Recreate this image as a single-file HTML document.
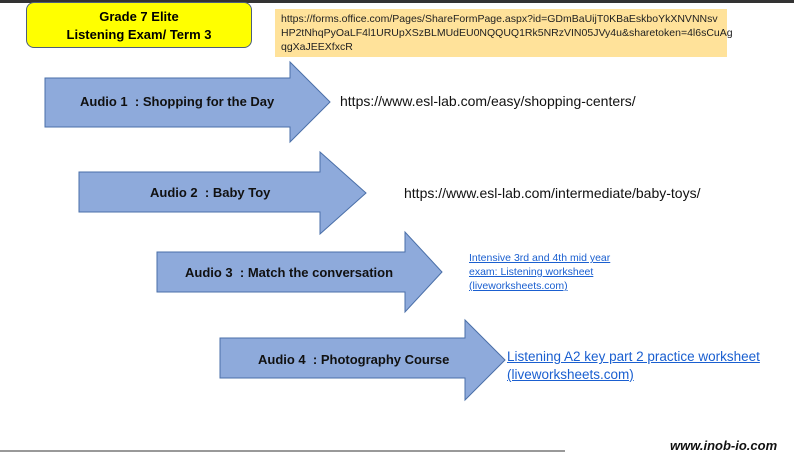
<!DOCTYPE html>
<html><head><meta charset="utf-8"><style>
body{margin:0;width:794px;height:453px;background:#fff;position:relative;overflow:hidden;font-family:"Liberation Sans",sans-serif}
.a{position:absolute}
.lbl{position:absolute;font-weight:bold;font-size:13px;color:#111;white-space:nowrap}
.lk{position:absolute;color:#1a5fd0;text-decoration:underline;white-space:nowrap}
</style></head><body>
<div class="a" style="left:0;top:0;width:794px;height:3px;background:#333"></div>
<div class="a" style="left:26px;top:2px;width:226px;height:46px;background:#ffff00;border:1px solid #4d5f7a;border-radius:8px;text-align:center;font-weight:bold;font-size:13px;line-height:18px;padding-top:5px;box-sizing:border-box">Grade 7 Elite<br>Listening Exam/ Term 3</div>
<div class="a" style="left:275px;top:9px;width:452px;height:48px;background:#ffe29a;font-size:10.5px;line-height:14px;padding:3px 6px;box-sizing:border-box;color:#222">https://forms.office.com/Pages/ShareFormPage.aspx?id=GDmBaUijT0KBaEskboYkXNVNNsv<br>HP2tNhqPyOaLF4l1URUpXSzBLMUdEU0NQQUQ1Rk5NRzVIN05JVy4u&amp;sharetoken=4l6sCuAg<br>qgXaJEEXfxcR</div>
<svg class="a" style="left:0;top:0" width="794" height="453">
<g fill="#8eaadb" stroke="#4a6fa8" stroke-width="1">
<polygon points="45,78 290,78 290,62 330,102 290,142 290,127 45,127"/>
<polygon points="79,172 320,172 320,152 366,193 320,234 320,212 79,212"/>
<polygon points="157,252 405,252 405,232 442,272 405,312 405,292 157,292"/>
<polygon points="220,338 465,338 465,320 505,360 465,400 465,378 220,378"/>
</g>
<line x1="0" y1="451" x2="565" y2="451" stroke="#333" stroke-width="1"/>
</svg>
<div class="lbl" style="left:80px;top:94px">Audio 1&nbsp; : Shopping for the Day</div>
<div class="lbl" style="left:150px;top:185px">Audio 2&nbsp; : Baby Toy</div>
<div class="lbl" style="left:185px;top:265px">Audio 3&nbsp; : Match the conversation</div>
<div class="lbl" style="left:258px;top:352px">Audio 4&nbsp; : Photography Course</div>
<div class="a" style="left:340px;top:93px;font-size:14px;color:#111">https://www.esl-lab.com/easy/shopping-centers/</div>
<div class="a" style="left:404px;top:185px;font-size:14px;color:#111">https://www.esl-lab.com/intermediate/baby-toys/</div>
<div class="lk" style="left:469px;top:251px;font-size:10.5px;line-height:14px">Intensive 3rd and 4th mid year<br>exam: Listening worksheet<br>(liveworksheets.com)</div>
<div class="lk" style="left:507px;top:348px;font-size:13.5px;line-height:18px">Listening A2 key part 2 practice worksheet<br>(liveworksheets.com)</div>
<div class="a" style="left:670px;top:438px;font-size:13px;font-weight:bold;font-style:italic;color:#111">www.inob-io.com</div>
</body></html>
